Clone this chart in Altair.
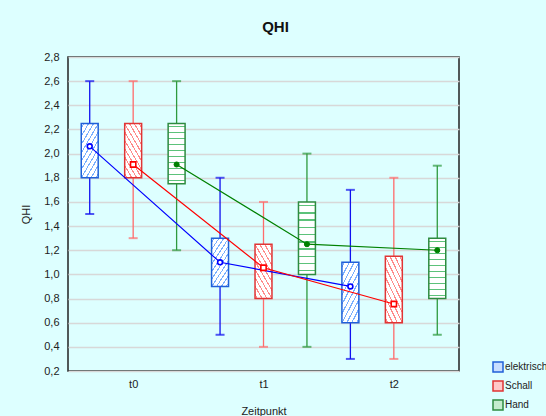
import altair as alt
import pandas as pd

# ---- data ----
times = ["t0", "t1", "t2"]
series = ["elektrisch", "Schall", "Hand"]

means = {"elektrisch": [2.06, 1.10, 0.90], "Schall": [1.91, 1.055, 0.755], "Hand": [1.91, 1.25, 1.20]}
q1 = {"elektrisch": [1.80, 0.90, 0.60], "Schall": [1.80, 0.80, 0.60], "Hand": [1.75, 1.00, 0.80]}
q3 = {"elektrisch": [2.25, 1.30, 1.10], "Schall": [2.25, 1.25, 1.15], "Hand": [2.25, 1.60, 1.30]}
lo = {"elektrisch": [1.50, 0.50, 0.30], "Schall": [1.30, 0.40, 0.30], "Hand": [1.20, 0.40, 0.50]}
hi = {"elektrisch": [2.60, 1.80, 1.70], "Schall": [2.60, 1.60, 1.80], "Hand": [2.60, 2.00, 1.90]}

y_ticks = [0.2, 0.4, 0.6, 0.8, 1.0, 1.2, 1.4, 1.6, 1.8, 2.0, 2.2, 2.4, 2.6, 2.8]

# ---- styles ----
FONT = "Liberation Sans"
line_col = {"elektrisch": "#0000FF", "Schall": "#FF0000", "Hand": "#008000"}
whisk_col = {"elektrisch": "#1010F0", "Schall": "#FF6B6B", "Hand": "#2E9A3E"}
box_col = {"elektrisch": "#2060D8", "Schall": "#E03535", "Hand": "#2E8B40"}
hatch_col = {"elektrisch": "#78B0FF", "Schall": "#FF8A8A", "Hand": "#5CC27A"}
legend_fill = ["#C8DEFF", "#FFC8C8", "#C4ECCE"]

rows = []
for si, s in enumerate(series):
    for ti, t in enumerate(times):
        x = ti + (si - 1) / 3.0
        rows.append(dict(series=s, time=t, x=x, xl=x - 0.065, xr=x + 0.065,
                         mean=means[s][ti], q1=q1[s][ti], q3=q3[s][ti],
                         lo=lo[s][ti], hi=hi[s][ti]))
df = pd.DataFrame(rows)


def stripes(color, n, x1, y1, x2, y2, w=0.25):
    stops = [{"offset": 0, "color": "#FFFFFF"}]
    for i in range(n):
        a = (i + 0.4) / n
        b = a + w / n
        stops += [{"offset": a, "color": "#FFFFFF"}, {"offset": a, "color": color},
                  {"offset": b, "color": color}, {"offset": b, "color": "#FFFFFF"}]
    stops.append({"offset": 1, "color": "#FFFFFF"})
    return {"gradient": "linear", "x1": x1, "y1": y1, "x2": x2, "y2": y2, "stops": stops}


fills = {
    "elektrisch": stripes(hatch_col["elektrisch"], 10, 0, 0, 0.639, 1.194),
    "Schall": stripes(hatch_col["Schall"], 10, 1, 0, 0.361, 1.194),
    "Hand": stripes(hatch_col["Hand"], 10, 0, 0, 0, 1, w=0.2),
}

xscale = alt.Scale(domain=[-0.5, 2.5], nice=False, zero=False)
yscale = alt.Scale(domain=[0.2, 2.8], nice=False, zero=False)

xaxis = alt.Axis(values=[0, 1, 2], labelExpr="'t' + datum.value", title="Zeitpunkt",
                 grid=False, ticks=False, domain=False, labelPadding=7, titlePadding=16,
                 labelFont=FONT, titleFont=FONT, labelFontSize=11, titleFontSize=11,
                 titleFontWeight="normal", labelColor="#222222", titleColor="#222222")
yaxis = alt.Axis(values=y_ticks, labelExpr="replace(format(datum.value, '.1f'), '.', ',')",
                 title="QHI", grid=True, gridColor="#D8D8D8", gridWidth=1.5, labelOverlap=False,
                 ticks=False, domain=False, labelPadding=9, titlePadding=12,
                 labelFont=FONT, titleFont=FONT, labelFontSize=11, titleFontSize=11,
                 titleFontWeight="normal", labelColor="#222222", titleColor="#222222")

base = alt.Chart(df)

layers = []
# whiskers (behind boxes)
for s in series:
    d = base.transform_filter(alt.datum.series == s)
    layers.append(d.mark_rule(color=whisk_col[s], strokeWidth=1.3).encode(
        x=alt.X("x:Q", scale=xscale, axis=xaxis),
        y=alt.Y("lo:Q", scale=yscale, axis=yaxis), y2="hi:Q"))
    layers.append(d.mark_tick(orient="horizontal", color=whisk_col[s], size=9, thickness=2).encode(
        x=alt.X("x:Q", scale=xscale, axis=xaxis), y=alt.Y("hi:Q", scale=yscale, axis=yaxis)))
    layers.append(d.mark_tick(orient="horizontal", color=whisk_col[s], size=9, thickness=2).encode(
        x=alt.X("x:Q", scale=xscale, axis=xaxis), y=alt.Y("lo:Q", scale=yscale, axis=yaxis)))
# boxes
for s in series:
    d = base.transform_filter(alt.datum.series == s)
    layers.append(d.mark_rect(fill=fills[s], stroke=box_col[s], strokeWidth=1.5).encode(
        x=alt.X("xl:Q", scale=xscale, axis=xaxis), x2="xr:Q",
        y=alt.Y("q1:Q", scale=yscale, axis=yaxis), y2="q3:Q"))
# mean lines and markers
for s in series:
    d = base.transform_filter(alt.datum.series == s)
    layers.append(d.mark_line(color=line_col[s], strokeWidth=1.2).encode(
        x=alt.X("x:Q", scale=xscale, axis=xaxis), y=alt.Y("mean:Q", scale=yscale, axis=yaxis),
        order="x:Q"))
for s in series:
    d = base.transform_filter(alt.datum.series == s)
    if s == "elektrisch":
        m = d.mark_circle(fill="#FFFFFF", stroke=line_col[s], strokeWidth=1.6, size=24, opacity=1)
    elif s == "Schall":
        m = d.mark_square(fill="#FFFFFF", stroke=line_col[s], strokeWidth=1.6, size=28, opacity=1)
    else:
        m = d.mark_circle(fill=line_col[s], stroke=line_col[s], strokeWidth=1, size=26, opacity=1)
    layers.append(m.encode(x=alt.X("x:Q", scale=xscale, axis=xaxis),
                           y=alt.Y("mean:Q", scale=yscale, axis=yaxis)))

# legend layer (no marks drawn)
leg = dict(title=None, orient="none", legendX=424, legendY=304,
           symbolType="square", symbolSize=100, labelFont=FONT,
           labelFontSize=10, labelColor="#222222", rowPadding=3,
           labelOffset=1, symbolStrokeWidth=1.5)
legend_layer = base.transform_filter("false").mark_square(size=100, strokeWidth=1.5, opacity=1).encode(
    stroke=alt.Stroke("series:N", scale=alt.Scale(domain=series, range=[box_col[s] for s in series]),
                      legend=alt.Legend(**leg)),
    fill=alt.Fill("series:N", scale=alt.Scale(domain=series, range=legend_fill),
                  legend=alt.Legend(**leg)),
)
layers.append(legend_layer)

chart = alt.layer(*layers).properties(
    width=391, height=314,
    title=alt.TitleParams("QHI", font=FONT, fontSize=15, fontWeight="bold", color="#111111",
                          anchor="middle", dx=12, offset=16),
    autosize=alt.AutoSizeParams(type="none"),
    padding={"left": 68, "top": 57, "right": 87, "bottom": 45},
    background="#DDFFFF",
).configure_view(fill="#FFFFFF", stroke="#222222", strokeWidth=1.5
).configure_axis(labelOverlap=False)

chart.save("out.html", embed_options={"renderer": "svg", "actions": False})
